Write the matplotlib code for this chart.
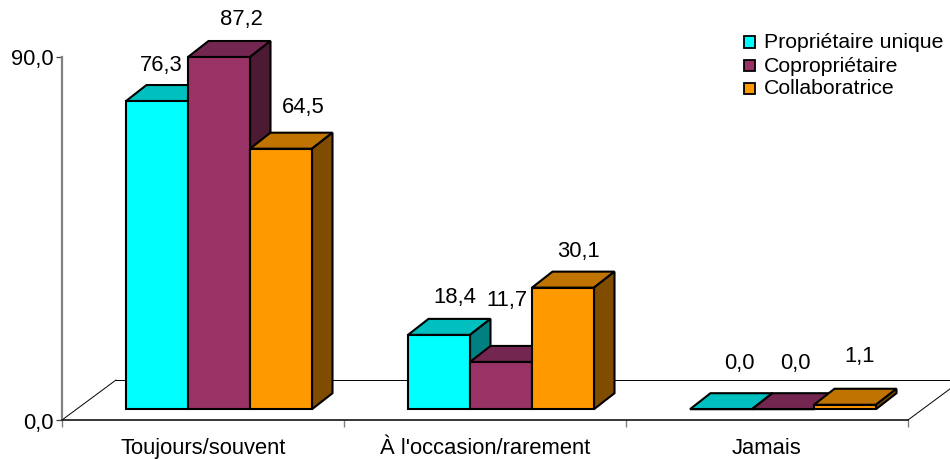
import matplotlib
matplotlib.use("Agg")
import matplotlib.pyplot as plt
from matplotlib.patches import Polygon, Rectangle

plt.rcParams["font.family"] = ["Liberation Sans", "DejaVu Sans"]

categories = ["Toujours/souvent", "À l'occasion/rarement", "Jamais"]
series_names = ["Propriétaire unique", "Copropriétaire", "Collaboratrice"]
proprietaire = [76.3, 18.4, 0.0]
copropriete = [87.2, 11.7, 0.0]
collaboratrice = [64.5, 30.1, 1.1]

front_colors = ["#00FFFF", "#993366", "#FF9900"]
top_colors = ["#00BFBF", "#732650", "#BF7300"]
side_colors = ["#008080", "#4D1A33", "#804D00"]

# label shifts in pixels from the front-top centre of each bar, by series then category
label_shift = [
    [(4, 37), (16, 38), (18, 47)],
    [(22, 39), (6, 62), (12, 47)],
    [(22, 42), (16, 37), (15, 49)],
]

W, H = 950, 460
LEFT, RIGHT, BOTTOM, TOP = 62, 908, 421, 57.5

fig = plt.figure(figsize=(W / 100, H / 100), dpi=100)
ax = fig.add_axes([LEFT / W, 1 - BOTTOM / H, (RIGHT - LEFT) / W, (BOTTOM - TOP) / H])
ax.set_xlim(0, 3)
ax.set_ylim(0, 90)

px_x = 3 / (RIGHT - LEFT)
px_y = 90 / (BOTTOM - TOP)

# floor of the 3D box
floor_dx, floor_dy = 54 * px_x, 40 * px_y
ax.plot([0, floor_dx], [0, floor_dy], color="black", lw=0.7, clip_on=False, zorder=1)
ax.plot([floor_dx, 3 + floor_dx], [floor_dy, floor_dy], color="black", lw=0.7, clip_on=False, zorder=1)
ax.plot([3, 3 + floor_dx], [0, floor_dy], color="black", lw=0.7, clip_on=False, zorder=1)

bar_w = 62.0 * px_x
depth_x, depth_y = 20.5 * px_x, 16 * px_y
start = 64 * px_x
base = 10.8 * px_y
edge = dict(edgecolor="black", linewidth=1.5, joinstyle="miter", clip_on=False, zorder=3)

all_series = [proprietaire, copropriete, collaboratrice]
for s, values in enumerate(all_series):
    for c, v in enumerate(values):
        x0 = c + start + s * bar_w
        x1 = x0 + bar_w
        y0 = base
        y1 = base + v
        top = [(x0, y1), (x1, y1), (x1 + depth_x, y1 + depth_y), (x0 + depth_x, y1 + depth_y)]
        side = [(x1, y0), (x1 + depth_x, y0 + depth_y), (x1 + depth_x, y1 + depth_y), (x1, y1)]
        ax.add_patch(Polygon(top, facecolor=top_colors[s], **edge))
        ax.add_patch(Polygon(side, facecolor=side_colors[s], **edge))
        ax.add_patch(Polygon([(x0, y0), (x1, y0), (x1, y1), (x0, y1)], facecolor=front_colors[s], **edge))
        dx, dy = label_shift[s][c]
        ax.annotate(f"{v:.1f}".replace(".", ","), xy=((x0 + x1) / 2, y1),
                    xytext=(dx * 0.72, dy * 0.72), textcoords="offset points",
                    ha="center", va="center", fontsize=15.8, color="black", zorder=5)

for side_name in ["top", "right"]:
    ax.spines[side_name].set_visible(False)
ax.spines["left"].set_color("#808080")
ax.spines["left"].set_linewidth(1.6)
ax.spines["bottom"].set_color("black")
ax.spines["bottom"].set_linewidth(1.1)

ax.set_yticks([0, 90])
ax.set_yticklabels(["0,0", "90,0"], fontsize=15.8)
ax.tick_params(axis="y", length=4.3, width=0.9, color="#404040", pad=1.5)
ax.set_xticks([0, 1, 2, 3])
ax.set_xticklabels([])
ax.tick_params(axis="x", which="major", length=5, width=1.0, color="#808080")
ax.set_xticks([0.5, 1.5, 2.5], minor=True)
ax.set_xticklabels(categories, minor=True, fontsize=15.8)
ax.tick_params(axis="x", which="minor", length=0, pad=12)

# legend keeps its own uneven row spacing
legend_rows = [43, 66, 89]
for name, color, row in zip(series_names, front_colors, legend_rows):
    fig.add_artist(Rectangle((743.5 / W, 1 - (row + 6) / H), 11.5 / W, 11.5 / H,
                             facecolor=color, edgecolor="black", linewidth=1.3,
                             transform=fig.transFigure))
    fig.text(764 / W, 1 - row / H, name, ha="left", va="center", fontsize=15.3)

fig.savefig("out.png", dpi=100)
plt.close(fig)
